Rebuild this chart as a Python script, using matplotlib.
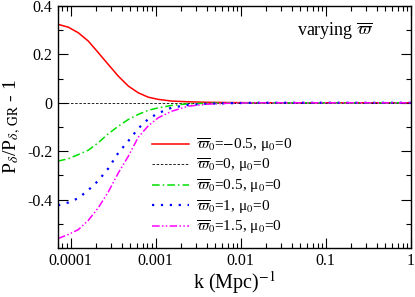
import numpy as np
import matplotlib
matplotlib.use("Agg")
import matplotlib.pyplot as plt
from matplotlib.ticker import FixedLocator, FixedFormatter, LogLocator, NullFormatter, MultipleLocator

plt.rcParams['font.family'] = ['Liberation Serif', 'DejaVu Serif']
plt.rcParams['mathtext.fontset'] = 'stix'
plt.rcParams['axes.unicode_minus'] = False

# k grid (Mpc^-1)
k = [7.1e-5, 9.4e-5, 1.23e-4, 1.61e-4, 2.11e-4, 2.77e-4, 3.63e-4, 4.76e-4, 6.24e-4,
     8.18e-4, 1.07e-3, 1.54e-3, 2.42e-3, 4e-3, 7e-3, 1.5e-2, 1e-1, 1.0]

# P_delta / P_delta,GR - 1 for each varpi_0
r_m05 = [0.324, 0.312, 0.289, 0.255, 0.207, 0.158, 0.110, 0.069, 0.041,
         0.023, 0.014, 0.007, 0.004, 0.002, 0.001, 0.0, 0.0, 0.0]
r_0 = [0.0] * len(k)
r_05 = [-0.241, -0.231, -0.214, -0.196, -0.165, -0.128, -0.097, -0.069, -0.048,
        -0.031, -0.021, -0.011, -0.004, -0.002, -0.001, 0.0, 0.0, 0.0]
r_1 = [-0.424, -0.412, -0.394, -0.361, -0.322, -0.271, -0.207, -0.158, -0.106,
       -0.067, -0.043, -0.020, -0.009, -0.004, -0.002, 0.0, 0.0, 0.0]
r_15 = [-0.561, -0.544, -0.524, -0.486, -0.434, -0.368, -0.290, -0.221, -0.142,
        -0.095, -0.062, -0.035, -0.014, -0.006, -0.002, 0.0, 0.0, 0.0]

labels = [r'$\overline{\varpi}_0$=$-$0.5, μ$_0$=0',
          r'$\overline{\varpi}_0$=0, μ$_0$=0',
          r'$\overline{\varpi}_0$=0.5, μ$_0$=0',
          r'$\overline{\varpi}_0$=1, μ$_0$=0',
          r'$\overline{\varpi}_0$=1.5, μ$_0$=0']

xticks = [1e-4, 1e-3, 1e-2, 1e-1, 1]
xticklabels = ['0.0001', '0.001', '0.01', '0.1', '1']
yticks = [-0.4, -0.2, 0, 0.2, 0.4]
yticklabels = ['-0.4', '-0.2', '0', '0.2', '0.4']

fig = plt.figure(figsize=(4.15, 2.97), dpi=100)
ax = fig.add_axes([0.1386, 0.165, 0.8514, 0.815])

ax.plot(k, r_m05, color='red', lw=1.1, label=labels[0])
ax.plot(k, r_0, color='black', lw=0.6, ls=(0, (3, 2)), label=labels[1])
ax.plot(k, r_05, color='#00e000', lw=1.1, ls=(0, (5, 2, 1, 2)), label=labels[2])
ax.plot(k, r_1, color='blue', lw=1.6, ls=(0, (1, 3)), label=labels[3])
ax.plot(k, r_15, color='magenta', lw=1.1, ls=(0, (5, 1.5, 1, 1.5, 1, 1.5)), label=labels[4])

ax.set_xscale('log')
ax.set_xlim(7e-5, 1)
ax.set_ylim(-0.6, 0.4)
ax.xaxis.set_major_locator(FixedLocator(xticks))
ax.xaxis.set_major_formatter(FixedFormatter(xticklabels))
ax.xaxis.set_minor_locator(LogLocator(base=10, subs=np.arange(2, 10)))
ax.xaxis.set_minor_formatter(NullFormatter())
ax.yaxis.set_major_locator(FixedLocator(yticks))
ax.yaxis.set_major_formatter(FixedFormatter(yticklabels))
ax.yaxis.set_minor_locator(MultipleLocator(0.1))
ax.tick_params(which='both', direction='in', top=True, right=True, labelsize=11.5, width=0.8)
ax.tick_params(which='major', length=7)
ax.tick_params(which='minor', length=3.5)
for s in ax.spines.values():
    s.set_linewidth(1.0)

ax.set_xlabel(r'k (Mpc)$^{-1}$', fontsize=14.5, labelpad=0)
ax.set_ylabel(r'P$_\delta$/P$_{\delta,\,\rm GR}$ - 1', fontsize=14, labelpad=3)
ax.text(0.893, 0.9, r'varying $\overline{\varpi}$', transform=ax.transAxes,
        ha='right', va='center', fontsize=13)

ax.legend(loc='upper left', bbox_to_anchor=(0.267, 0.462), frameon=False, fontsize=11,
          handlelength=2.4, handletextpad=0.5, labelspacing=0.18, borderaxespad=0,
          borderpad=0)

fig.savefig('out.png', dpi=100)
